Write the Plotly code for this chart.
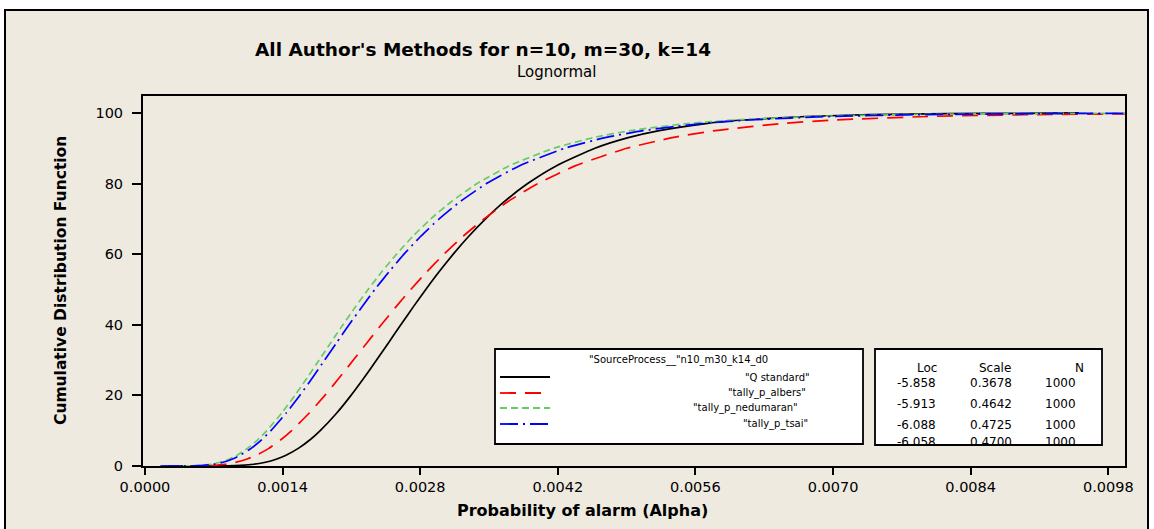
import plotly.graph_objects as go

# ---- data ----
cdf_pct = [0, 0.1, 0.5, 1, 2, 3, 5, 7.5, 10, 15, 20, 25, 30, 35, 40, 45, 50,
           55, 60, 65, 70, 75, 80, 85, 90, 93, 95, 97, 98, 99, 99.5, 99.8, 99.9, 100]

q_standard = [0.00016, 0.000916, 0.001108, 0.001214, 0.001342, 0.001430, 0.001560, 0.001683,
              0.001783, 0.001951, 0.002096, 0.002229, 0.002356, 0.002480, 0.002603, 0.002728,
              0.002857, 0.002992, 0.003136, 0.003292, 0.003465, 0.003661, 0.003893, 0.004183,
              0.004578, 0.004916, 0.005232, 0.005706, 0.006080, 0.006722, 0.007368, 0.008169,
              0.008902, 0.009500]
tally_albers = [0.00016, 0.000644, 0.000818, 0.000918, 0.001042, 0.001129, 0.001260, 0.001386,
                0.001492, 0.001671, 0.001830, 0.001977, 0.002120, 0.002261, 0.002404, 0.002551,
                0.002704, 0.002867, 0.003042, 0.003234, 0.003449, 0.003698, 0.003997, 0.004375,
                0.004902, 0.005365, 0.005803, 0.006474, 0.007015, 0.007962, 0.008939, 0.010287,
                0.010900, 0.011500]
tally_nedumaran = [0.00016, 0.000527, 0.000672, 0.000756, 0.000860, 0.000933, 0.001043, 0.001150,
                   0.001239, 0.001391, 0.001525, 0.001650, 0.001772, 0.001892, 0.002014, 0.002139,
                   0.002270, 0.002409, 0.002559, 0.002723, 0.002908, 0.003122, 0.003379, 0.003704,
                   0.004159, 0.004559, 0.004938, 0.005521, 0.005990, 0.006814, 0.007667, 0.008844,
                   0.009775, 0.010300]
tally_tsai = [0.00016, 0.000547, 0.000697, 0.000784, 0.000891, 0.000966, 0.001080, 0.001189,
              0.001281, 0.001437, 0.001575, 0.001704, 0.001828, 0.001952, 0.002076, 0.002205,
              0.002339, 0.002482, 0.002635, 0.002803, 0.002993, 0.003212, 0.003474, 0.003807,
              0.004272, 0.004680, 0.005068, 0.005662, 0.006141, 0.006981, 0.007849, 0.009048,
              0.009995, 0.010500]

series_names = ['"Q standard"', '"tally_p_albers"', '"tally_p_nedumaran"', '"tally_p_tsai"']
series_x = [q_standard, tally_albers, tally_nedumaran, tally_tsai]
series_colors = ["#000000", "#FF0000", "#66CC66", "#0000FF"]
series_dash = ["solid", "16px,9px", "7px,4px", "18px,5px,2px,5px"]

loc_vals = ["-5.858", "-5.913", "-6.088", "-6.058"]
scale_vals = ["0.3678", "0.4642", "0.4725", "0.4700"]
n_vals = ["1000", "1000", "1000", "1000"]

x_ticks = [0.0, 0.0014, 0.0028, 0.0042, 0.0056, 0.0070, 0.0084, 0.0098]
x_tick_text = ["0.0000", "0.0014", "0.0028", "0.0042", "0.0056", "0.0070", "0.0084", "0.0098"]
y_ticks = [0, 20, 40, 60, 80, 100]

# ---- layout geometry (pixels) ----
W, H = 1154, 529
L, R, T, B = 143, 1125, 96, 466
PW, PH = R - L, B - T


def xp(px):
    return (px - L) / PW


def yp(py):
    return (B - py) / PH


FONT = "DejaVu Sans"

fig = go.Figure()
for name, xs, col, dash in zip(series_names, series_x, series_colors, series_dash):
    fig.add_trace(go.Scatter(
        x=xs, y=cdf_pct, mode="lines", name=name,
        line=dict(color=col, width=1.7, dash=dash, shape="spline", smoothing=0.5),
        showlegend=False,
    ))

shapes = []
annotations = []

# outer beige frame
shapes.append(dict(type="rect", xref="paper", yref="paper",
                   x0=xp(5), x1=xp(1148), y0=yp(545), y1=yp(10),
                   fillcolor="#EEEAE0", line=dict(color="black", width=2), layer="below"))

# titles
annotations.append(dict(text="<b>All Author's Methods for n=10, m=30, k=14</b>",
                        x=xp(483), y=yp(50), xref="paper", yref="paper",
                        showarrow=False, font=dict(family=FONT, size=18.5, color="black"),
                        xanchor="center", yanchor="middle"))
annotations.append(dict(text="Lognormal", x=xp(556), y=yp(72), xref="paper", yref="paper",
                        showarrow=False, font=dict(family=FONT, size=15, color="black"),
                        xanchor="center", yanchor="middle"))
annotations.append(dict(text="<b>Probability of alarm (Alpha)</b>", x=xp(582), y=yp(510),
                        xref="paper", yref="paper", showarrow=False,
                        font=dict(family=FONT, size=16, color="black"),
                        xanchor="center", yanchor="middle"))
annotations.append(dict(text="<b>Cumulative Distribution Function</b>", x=xp(61), y=yp(281),
                        xref="paper", yref="paper", showarrow=False, textangle=-90,
                        font=dict(family=FONT, size=15.5, color="black"),
                        xanchor="center", yanchor="middle"))

# legend box
shapes.append(dict(type="rect", xref="paper", yref="paper",
                   x0=xp(495), x1=xp(863), y0=yp(444), y1=yp(349),
                   fillcolor="white", line=dict(color="black", width=1.8), layer="above"))
annotations.append(dict(text='"SourceProcess__"n10_m30_k14_d0', x=xp(678), y=yp(360),
                        xref="paper", yref="paper", showarrow=False,
                        font=dict(family=FONT, size=10, color="black"),
                        xanchor="center", yanchor="middle"))
leg_y = [377, 393, 408, 424]
leg_cx = [777, 767, 745, 775]
for name, col, dash, ly, cx in zip(series_names, series_colors, series_dash, leg_y, leg_cx):
    shapes.append(dict(type="line", xref="paper", yref="paper",
                       x0=xp(500), x1=xp(550), y0=yp(ly), y1=yp(ly),
                       line=dict(color=col, width=1.8, dash=dash), layer="above"))
    annotations.append(dict(text=name, x=xp(cx), y=yp(ly), xref="paper", yref="paper",
                            showarrow=False, font=dict(family=FONT, size=10, color="black"),
                            xanchor="center", yanchor="middle"))

# parameter table box
shapes.append(dict(type="rect", xref="paper", yref="paper",
                   x0=xp(875), x1=xp(1102), y0=yp(445), y1=yp(349),
                   fillcolor="white", line=dict(color="black", width=1.8), layer="above"))
for txt, cx in zip(["Loc", "Scale", "N"], [927, 995, 1079]):
    annotations.append(dict(text=txt, x=xp(cx), y=yp(368), xref="paper", yref="paper",
                            showarrow=False, font=dict(family=FONT, size=12, color="black"),
                            xanchor="center", yanchor="middle"))
row_y = [383, 404, 425, 442]
for lv, sv, nv, ry in zip(loc_vals, scale_vals, n_vals, row_y):
    for txt, cx in zip([lv, sv, nv], [916, 991, 1060]):
        annotations.append(dict(text=txt, x=xp(cx), y=yp(ry), xref="paper", yref="paper",
                                showarrow=False, font=dict(family=FONT, size=12, color="black"),
                                xanchor="center", yanchor="middle"))

fig.update_layout(
    width=W, height=H,
    margin=dict(l=L, r=W - R, t=T, b=H - B, pad=0),
    paper_bgcolor="white",
    plot_bgcolor="white",
    font=dict(family=FONT, size=14, color="black"),
    shapes=shapes,
    annotations=annotations,
    showlegend=False,
)
fig.update_xaxes(range=[-0.00002, 0.00997], tickvals=x_ticks, ticktext=x_tick_text,
                 showgrid=False, zeroline=False, showline=True, linecolor="black", linewidth=2,
                 mirror=True, ticks="outside", ticklen=7, tickwidth=2, tickcolor="black",
                 tickfont=dict(family=FONT, size=14.5, color="black"))
fig.update_yaxes(range=[0, 104.8], tickvals=y_ticks,
                 showgrid=False, zeroline=False, showline=True, linecolor="black", linewidth=2,
                 mirror=True, ticks="outside", ticklen=9, tickwidth=2, tickcolor="black",
                 ticklabelstandoff=6,
                 tickfont=dict(family=FONT, size=14.5, color="black"))

fig.write_html("out.html")
